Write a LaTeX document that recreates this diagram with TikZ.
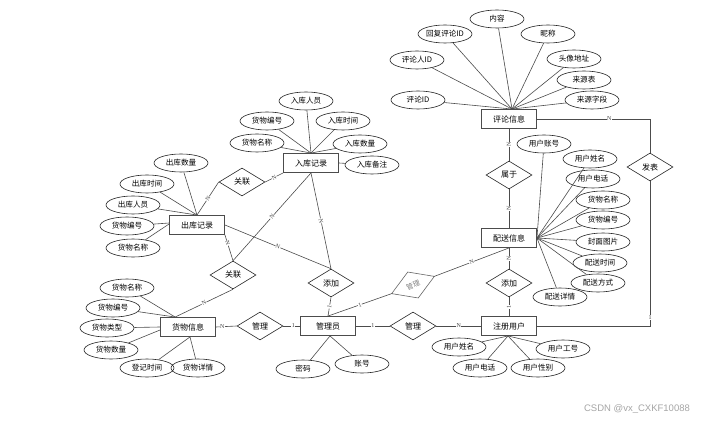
\documentclass[tikz,border=0pt]{standalone}
\usepackage{fontspec}
\newfontfamily\cjk{Noto Sans CJK SC}
\newfontfamily\labfont{Liberation Serif}
\newfontfamily\wmfont{Liberation Sans}
\usetikzlibrary{shapes.geometric,calc}
\tikzset{
  txt/.style={font=\cjk\fontsize{7.6}{8}\selectfont},
  bigtxt/.style={font=\cjk\fontsize{8}{9}\selectfont},
  ent/.style={bigtxt, draw=black!70, line width=0.9pt, minimum width=55pt, minimum height=19pt, inner sep=0pt},
  att/.style={txt, ellipse, draw=black!85, line width=0.6pt, minimum width=54pt, minimum height=18pt, inner sep=0pt},
  rel/.style={bigtxt, diamond, aspect=1.6, draw=black!85, line width=0.6pt, minimum width=46pt, minimum height=28pt, inner sep=0pt},
  ln/.style={draw=black!70, line width=0.6pt},
  card/.style={font=\labfont\fontsize{6}{6}\selectfont, inner sep=0.4pt, fill=white, text=black!75},
}
\begin{document}
\begin{tikzpicture}[x=1pt,y=-1pt]
\useasboundingbox[fill=white] (0,0) rectangle (720,422);
% entities
\node[ent] (pl) at (509,119) {评论信息};
\node[ent] (rk) at (311,163) {入库记录};
\node[ent] (ck) at (197,225) {出库记录};
\node[ent] (hw) at (188,327) {货物信息};
\node[ent] (gly) at (328,326) {管理员};
\node[ent] (ps) at (509,238) {配送信息};
\node[ent] (zc) at (509,326) {注册用户};
% relations
\node[rel] (gl1) at (242,182) {关联};
\node[rel] (gl2) at (233,275) {关联};
\node[rel] (tj1) at (331,283) {添加};
\node[rel] (gl3) at (260,326) {管理};
\node[rel] (gl4) at (413,326) {管理};
\node[rel] (sy) at (509,175) {属于};
\node[rel] (tj2) at (509,283) {添加};
\node[rel] (fb) at (650,167) {发表};
% tilted relation 管理
\begin{scope}[shift={(413,285)}, rotate=22]
  \coordinate (gmw) at (-23,0);
  \coordinate (gme) at (23,0);
  \coordinate (gmn) at (0,-14);
  \coordinate (gms) at (0,14);
  \draw[draw=black!60, line width=0.6pt] (gmw) -- (gmn) -- (gme) -- (gms) -- cycle;
  \node[font=\cjk\fontsize{7}{8}\selectfont, rotate=22, text=black!50, inner sep=0pt] (gm) at (0,0) {管理};
\end{scope}
% attributes of 评论信息
\node[att] (a1) at (497,19) {内容};
\node[att] (a2) at (445,34) {回复评论ID};
\node[att] (a3) at (548,34) {昵称};
\node[att] (a4) at (417,60) {评论人ID};
\node[att] (a5) at (574,59) {头像地址};
\node[att] (a6) at (584,80) {来源表};
\node[att] (a7) at (418,100) {评论ID};
\node[att] (a8) at (592,100) {来源字段};
\foreach \a in {a1,a2,a3,a4,a5,a6,a7,a8} \draw[ln] (\a) -- ($(pl.north)+(3,0)$);
% attributes of 入库记录
\node[att] (b1) at (306,101) {入库人员};
\node[att] (b2) at (267,121) {货物编号};
\node[att] (b3) at (343,121) {入库时间};
\node[att] (b4) at (257,143) {货物名称};
\node[att] (b5) at (360,144) {入库数量};
\node[att] (b6) at (372,165) {入库备注};
\foreach \a in {b1,b2,b3,b4,b5} \draw[ln] (\a) -- (rk.north);
\draw[ln] (b6) -- (rk.east);
% attributes of 出库记录
\node[att] (c1) at (181,163) {出库数量};
\node[att] (c2) at (147,184) {出库时间};
\node[att] (c3) at (133,205) {出库人员};
\node[att] (c4) at (127,226) {货物编号};
\node[att] (c5) at (133,248) {货物名称};
\foreach \a in {c1,c2,c3} \draw[ln] (\a) -- (ck.north);
\draw[ln] (c4) -- ($(ck.west)+(0,-2)$);
\draw[ln] (c5) -- ($(ck.west)+(0,-1)$);
% attributes of 货物信息
\coordinate (hwt) at ($(hw.north west)!0.27!(hw.north east)$);
\node[att] (d1) at (127,288) {货物名称};
\node[att] (d2) at (113,308) {货物编号};
\node[att] (d3) at (107,328) {货物类型};
\node[att] (d4) at (111,350) {货物数量};
\node[att] (d5) at (147,368) {登记时间};
\node[att] (d6) at (198,368) {货物详情};
\draw[ln] (d1) -- (hwt);
\draw[ln] (d2) -- (hwt);
\draw[ln] (d3) -- (hw.west);
\draw[ln] (d4) -- ($(hw.west)+(0,3)$);
\draw[ln] (d5) -- ($(hw.south)+(2,0)$);
\draw[ln] (d6) -- ($(hw.south)+(2,0)$);
% attributes of 管理员
\node[att] (e1) at (303,369) {密码};
\node[att] (e2) at (362,364) {账号};
\draw[ln] (e1) -- ($(gly.south)+(2,0)$);
\draw[ln] (e2) -- ($(gly.south)+(2,0)$);
% attributes of 配送信息
\node[att] (f1) at (544,144) {用户账号};
\node[att] (f2) at (590,159) {用户姓名};
\node[att] (f3) at (593,179) {用户电话};
\node[att] (f4) at (603,200) {货物名称};
\node[att] (f5) at (603,220) {货物编号};
\node[att] (f6) at (603,242) {封面图片};
\node[att] (f7) at (600,263) {配送时间};
\node[att] (f8) at (598,283) {配送方式};
\node[att] (f9) at (560,297) {配送详情};
\foreach \a in {f1,f2,f3,f4,f5,f6,f7,f8,f9} \draw[ln] (\a) -- (ps.east);
% attributes of 注册用户
\node[att] (g1) at (459,347) {用户姓名};
\node[att] (g2) at (563,349) {用户工号};
\node[att] (g3) at (480,368) {用户电话};
\node[att] (g4) at (538,368) {用户性别};
\foreach \a in {g1,g2,g3,g4} \draw[ln] (\a) -- ($(zc.south)+(-1,0)$);
% relationships
\draw[ln] (ck.north) -- node[card,sloped]{N} (gl1.west);
\draw[ln] (gl1.east) -- node[card,sloped]{N} (rk.south west);
\draw[ln] (rk.south) -- node[card,sloped]{N} (gl2.north);
\draw[ln] (ck.south east) -- node[card,sloped,pos=0.32]{N} (gl2.north);
\draw[ln] (ck.east) -- node[card,sloped]{N} (tj1.north);
\draw[ln] (rk.south) -- node[card,sloped]{N} (tj1.north);
\draw[ln] (gl2.south) -- node[card,sloped]{N} (hwt);
\draw[ln] (tj1.south) -- node[card,sloped]{1} (gly.north);
\draw[ln] (gly.north) -- node[card,sloped]{1} (gmw);
\draw[ln] (gme) -- node[card,sloped]{N} (ps.south);
\draw[ln] (hw.east) -- node[card,pos=0.3]{N} (gl3.west);
\draw[ln] (gl3.east) -- node[card,pos=0.6]{1} (gly.west);
\draw[ln] (gly.east) -- node[card]{1} (gl4.west);
\draw[ln] (gl4.east) -- node[card]{N} (zc.west);
\draw[ln] (zc.north) -- node[card,sloped]{1} (tj2.south);
\draw[ln] (tj2.north) -- node[card,sloped]{N} (ps.south);
\draw[ln] (ps.north) -- node[card,sloped]{N} (sy.south);
\draw[ln] (sy.north) -- node[card,sloped]{N} (pl.south);
\draw[ln] (pl.east) -| node[card,pos=0.32]{N} (fb.north);
\draw[ln] (fb.south) |- node[card,pos=0.47]{1} (zc.east);
% watermark
\node[font=\wmfont\fontsize{9.5}{10}\selectfont, text=black!35] (wm) at (637,409) {CSDN @vx\_CXKF10088};
\end{tikzpicture}
\end{document}
